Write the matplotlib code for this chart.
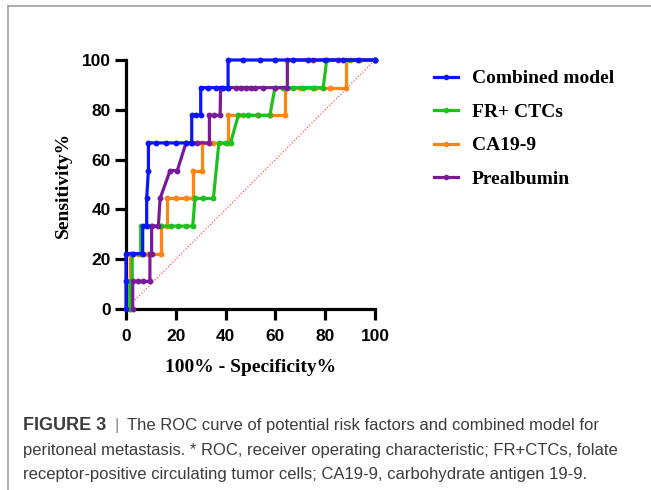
import matplotlib
matplotlib.use("Agg")
import matplotlib.pyplot as plt
from matplotlib.lines import Line2D

# ROC data (x = 100% - specificity, y = sensitivity, both in %)
combined_x = [0, 0, 0, 3, 6.7, 6.7, 8.3, 8.3, 9, 9, 12, 16, 20, 24, 26.4, 26.4, 28, 30, 30, 33, 36, 39, 41,
              41, 47, 54, 60, 67, 73, 80, 87, 93, 100]
combined_y = [0, 11.1, 22.2, 22.2, 22.2, 33.3, 33.3, 44.4, 55.6, 66.7, 66.7, 66.7, 66.7, 66.7, 66.7, 77.8, 77.8,
              77.8, 88.9, 88.9, 88.9, 88.9, 88.9, 100, 100, 100, 100, 100, 100, 100, 100, 100, 100]

frctc_x = [1.5, 1.5, 2.5, 2.5, 5.9, 5.9, 10, 14, 18, 21, 24, 26.8, 27.7, 31, 35.1, 37.3, 40, 42, 45.1, 49,
           53, 57.8, 59.8, 63, 67, 71, 75, 79.2, 80.6, 90, 100]
frctc_y = [0, 11.1, 11.1, 22.2, 22.2, 33.3, 33.3, 33.3, 33.3, 33.3, 33.3, 33.3, 44.4, 44.4, 44.4, 66.7, 66.7,
           66.7, 77.8, 77.8, 77.8, 77.8, 88.9, 88.9, 88.9, 88.9, 88.9, 88.9, 100, 100, 100]

ca199_x = [1.6, 1.6, 1.6, 5, 9, 14, 14, 16.3, 16.3, 20, 24, 26.8, 26.8, 30.4, 30.4, 35, 41, 41, 47, 53, 58,
           63.9, 63.9, 70, 76, 82, 88.5, 88.5, 94, 100]
ca199_y = [0, 11.1, 22.2, 22.2, 22.2, 22.2, 33.3, 33.3, 44.4, 44.4, 44.4, 44.4, 55.6, 55.6, 66.7, 66.7, 66.7,
           77.8, 77.8, 77.8, 77.8, 77.8, 88.9, 88.9, 88.9, 88.9, 88.9, 100, 100, 100]

preal_x = [2.7, 2.7, 5, 7, 9.6, 9.6, 10.3, 10.3, 13, 13.7, 17.7, 20.6, 24.1, 26, 28.4, 33.5, 33.5, 35.5, 37.8,
           38, 41, 44, 46, 48, 50, 52, 55, 60, 64.8, 64.8, 75, 85, 100]
preal_y = [0, 11.1, 11.1, 11.1, 11.1, 22.2, 22.2, 33.3, 33.3, 44.4, 55.6, 55.6, 66.7, 66.7, 66.7, 66.7, 77.8,
           77.8, 77.8, 88.9, 88.9, 88.9, 88.9, 88.9, 88.9, 88.9, 88.9, 88.9, 88.9, 100, 100, 100, 100]

series = [
    ("Combined model", combined_x, combined_y, "#0a14ff"),
    ("FR+ CTCs", frctc_x, frctc_y, "#1fbf1f"),
    ("CA19-9", ca199_x, ca199_y, "#ff8412"),
    ("Prealbumin", preal_x, preal_y, "#7a1a9a"),
]
draw_order = ["CA19-9", "FR+ CTCs", "Prealbumin", "Combined model"]

fig = plt.figure(figsize=(6.51, 4.90), dpi=100)
ax = fig.add_axes([126 / 651, 1 - 309 / 490, 249 / 651, 249 / 490])

# chance line
ax.plot([0, 100], [0, 100], color="#ff5a5a", lw=0.9, ls=(0, (1, 1.5)), zorder=1)

for z, name in enumerate(draw_order):
    for label, xs, ys, col in series:
        if label == name:
            ax.plot(xs, ys, color=col, lw=2.3, marker="o", ms=3.2, clip_on=False, zorder=3 + z)

ax.set_xlim(0, 100)
ax.set_ylim(0, 100)
ax.set_xticks(range(0, 101, 20))
ax.set_yticks(range(0, 101, 20))
for s in ["top", "right"]:
    ax.spines[s].set_visible(False)
for s in ["left", "bottom"]:
    ax.spines[s].set_linewidth(2.3)
ax.tick_params(width=2.3, length=8, labelsize=12.5, pad=3)
ax.tick_params(axis="x", pad=6.5)
for t in ax.get_xticklabels() + ax.get_yticklabels():
    t.set_fontfamily("Liberation Sans")
    t.set_fontweight("bold")

ax.set_xlabel("100% - Specificity%", fontfamily="Liberation Serif", fontweight="bold", fontsize=14, labelpad=11)
ax.set_ylabel("Sensitivity%", fontfamily="Liberation Serif", fontweight="bold", fontsize=14, labelpad=7)

handles = [Line2D([], [], color=c, lw=2.3, marker="o", ms=3) for _, _, _, c in series]
fig.legend(handles, [s[0] for s in series], loc="upper left", bbox_to_anchor=(424 / 651, 1 - 60 / 490),
           frameon=False, borderpad=0, handlelength=1.25, handletextpad=0.7, labelspacing=0.82,
           prop={"family": "Liberation Serif", "weight": "bold", "size": 14})

# panel frame (top and left edges)
fig.add_artist(Line2D([8 / 651, 1], [1 - 6 / 490, 1 - 6 / 490], color="#a0a0a0", lw=1.2))
fig.add_artist(Line2D([8 / 651, 8 / 651], [0, 1 - 6 / 490], color="#a0a0a0", lw=1.2))

# caption
cap_col = "#3c3c3c"
cap_fs = 12
x0 = 23 / 651
bold = fig.text(x0, 1 - 430 / 490, "FIGURE 3", fontfamily="Liberation Sans", fontweight="bold",
                fontsize=13, color=cap_col, va="baseline")
fig.canvas.draw()
bb = bold.get_window_extent()
fig.text(bb.x1 / 651 + 8 / 651, 1 - 430 / 490, "|", fontfamily="Liberation Sans", fontsize=cap_fs,
         color="#8a8a8a", va="baseline")
fig.text(bb.x1 / 651 + 21 / 651, 1 - 430 / 490,
         "The ROC curve of potential risk factors and combined model for",
         fontfamily="Liberation Sans", fontsize=cap_fs, color=cap_col, va="baseline")
fig.text(x0, 1 - 455 / 490,
         "peritoneal metastasis. * ROC, receiver operating characteristic; FR+CTCs, folate",
         fontfamily="Liberation Sans", fontsize=cap_fs, color=cap_col, va="baseline")
fig.text(x0, 1 - 479 / 490,
         "receptor-positive circulating tumor cells; CA19-9, carbohydrate antigen 19-9.",
         fontfamily="Liberation Sans", fontsize=cap_fs, color=cap_col, va="baseline")

fig.savefig("out.png", dpi=100)
